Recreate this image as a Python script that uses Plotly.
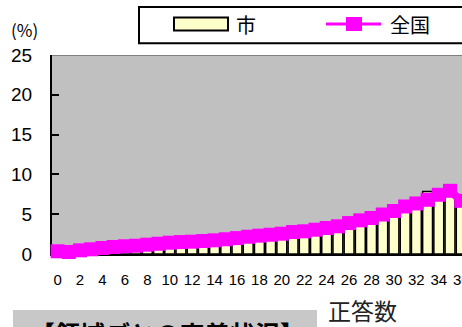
import plotly.graph_objects as go

# ---- data ----
scores = list(range(0, 37))
city_pct = [0.2, 0.3, 0.4, 0.5, 0.7, 0.8, 0.9, 1.0, 1.1, 1.2, 1.3, 1.4, 1.5, 1.6, 1.7, 1.8,
            1.9, 2.1, 2.2, 2.4, 2.5, 2.7, 2.8, 3.0, 3.2, 3.5, 3.8, 4.1, 4.5, 4.9, 5.3, 5.8,
            6.3, 7.85, 7.3, 7.6, 6.5]
national_pct = [0.34, 0.25, 0.46, 0.59, 0.75, 0.88, 0.97, 1.04, 1.17, 1.29, 1.42, 1.5, 1.55,
                1.63, 1.72, 1.85, 2.0, 2.17, 2.3, 2.42, 2.55, 2.76, 2.85, 3.05, 3.27, 3.48,
                3.89, 4.23, 4.52, 4.96, 5.4, 5.97, 6.35, 6.81, 7.44, 7.94, 6.68]
series_names = ["市", "全国"]
y_unit = "(%)"
x_title = "正答数"
section_title = "【領域ごとの定着状況】"

W, H = 462, 327
L, R, T, B = 52, 462, 55, 254  # plot area in px

def xp(px):
    return (px - L) / (R - L)

def yp(py):
    return (B - py) / (B - T)

CJK = "Noto Sans CJK JP"
NUM = "Liberation Sans, Arial, sans-serif"

fig = go.Figure()
fig.add_trace(go.Bar(
    x=scores, y=city_pct, name=series_names[0], width=0.88,
    marker=dict(color="#FFFFCC", line=dict(color="black", width=1.5)),
))
fig.add_trace(go.Scatter(
    x=scores, y=national_pct, name=series_names[1], mode="lines+markers",
    line=dict(color="#FF00FF", width=8),
    marker=dict(symbol="square", size=14, color="#FF00FF", line=dict(width=0)),
    cliponaxis=False,
))

shapes = [
    # top border line at 25
    dict(type="line", xref="paper", yref="y", x0=0, x1=1, y0=25, y1=25,
         line=dict(color="#808080", width=2)),
    # legend box
    dict(type="rect", xref="paper", yref="paper", x0=xp(139), x1=xp(480), y0=yp(7), y1=yp(43.3),
         line=dict(color="black", width=2), fillcolor="white"),
    # legend bar swatch
    dict(type="rect", xref="paper", yref="paper", x0=xp(174), x1=xp(228), y0=yp(17.5), y1=yp(30.5),
         line=dict(color="black", width=2), fillcolor="#FFFFCC"),
    # legend line
    dict(type="line", xref="paper", yref="paper", x0=xp(326), x1=xp(381), y0=yp(24), y1=yp(24),
         line=dict(color="#FF00FF", width=3)),
    dict(type="rect", xref="paper", yref="paper", x0=xp(346), x1=xp(362), y0=yp(17), y1=yp(31),
         line=dict(width=0), fillcolor="#FF00FF"),
    # bottom gray box
    dict(type="rect", xref="paper", yref="paper", x0=xp(13), x1=xp(317), y0=yp(310), y1=yp(340),
         line=dict(width=0), fillcolor="#C8C8C8"),
]

annotations = [
    dict(text=series_names[0], x=xp(245.5), y=yp(24), xref="paper", yref="paper",
         showarrow=False, font=dict(family=CJK, size=20, color="black"), xanchor="center", yanchor="middle"),
    dict(text=series_names[1], x=xp(409.5), y=yp(24), xref="paper", yref="paper",
         showarrow=False, font=dict(family=CJK, size=20, color="black"), xanchor="center", yanchor="middle"),
    dict(text=y_unit, x=xp(24.5), y=yp(29), xref="paper", yref="paper",
         showarrow=False, font=dict(family=CJK, size=17, color="black"), xanchor="center", yanchor="middle"),
    dict(text=x_title, x=xp(362), y=yp(310), xref="paper", yref="paper",
         showarrow=False, font=dict(family=CJK, size=23, color="#222222"), xanchor="center", yanchor="middle"),
    dict(text="<b>" + section_title + "</b>", x=xp(167), y=yp(333), xref="paper", yref="paper",
         showarrow=False, font=dict(family=CJK, size=25, color="black"), xanchor="center", yanchor="middle"),
]

fig.update_layout(
    width=W, height=H,
    margin=dict(l=L, r=W - R, t=T, b=H - B, pad=0, autoexpand=False),
    plot_bgcolor="#C0C0C0", paper_bgcolor="white",
    showlegend=False,
    shapes=shapes, annotations=annotations,
    xaxis=dict(range=[-0.5, 36.07], tickmode="linear", tick0=0, dtick=2,
               showline=True, linecolor="black", linewidth=2, ticks="",
               showgrid=False, zeroline=False, layer="below traces",
               ticklabeloverflow="allow", automargin=False,
               tickfont=dict(family=NUM, size=15, color="black"), ticklabelstandoff=11),
    yaxis=dict(range=[0, 25], tickmode="linear", tick0=0, dtick=5,
               showline=True, linecolor="black", linewidth=2,
               ticks="inside", ticklen=7, tickwidth=2, tickcolor="black",
               showgrid=False, zeroline=False, layer="below traces", automargin=False,
               tickfont=dict(family=NUM, size=19, color="black"), ticklabelstandoff=14),
)

fig.write_html("out.html")
